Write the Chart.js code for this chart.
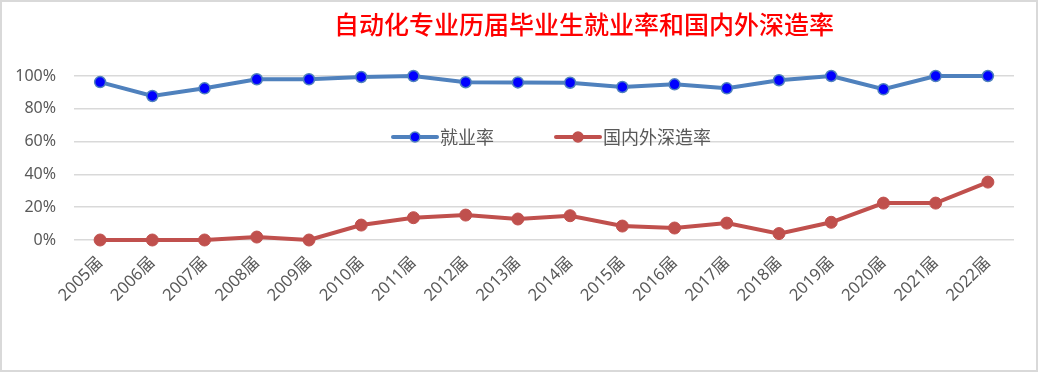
<!DOCTYPE html>
<html>
<head>
<meta charset="utf-8">
<script src="https://cdn.jsdelivr.net/npm/chart.js@4"></script>
<style>
  html, body { margin: 0; padding: 0; background: #fff; }
  canvas { display: block; }
</style>
</head>
<body>
<canvas id="chart" width="1038" height="372"></canvas>
<script>
const categories = ['2005届', '2006届', '2007届', '2008届', '2009届', '2010届', '2011届', '2012届', '2013届',
  '2014届', '2015届', '2016届', '2017届', '2018届', '2019届', '2020届', '2021届', '2022届'];
const employmentRate = [96.3, 87.8, 92.5, 98.0, 98.0, 99.4, 100, 96.2, 96.1,
  95.9, 93.3, 94.9, 92.5, 97.4, 100, 91.9, 100, 100];
const furtherStudyRate = [0, 0, 0, 1.8, 0, 9.1, 13.6, 15.2, 12.8,
  14.8, 8.5, 7.3, 10.3, 3.9, 10.8, 22.5, 22.5, 35.3];
const seriesNames = ['就业率', '国内外深造率'];
const titleText = '自动化专业历届毕业生就业率和国内外深造率';

const labelFont = "'Noto Sans', 'Noto Sans CJK SC', sans-serif";

// title, frame and in-plot legend
const decor = {
  id: 'decor',
  afterDraw(chart) {
    const ctx = chart.ctx;
    ctx.save();
    ctx.strokeStyle = '#d9d9d9';
    ctx.lineWidth = 2;
    ctx.strokeRect(1, 1, chart.width - 2, chart.height - 2);

    ctx.fillStyle = '#ff0000';
    ctx.font = "500 25px 'Noto Sans CJK SC', sans-serif";
    ctx.textAlign = 'center';
    ctx.textBaseline = 'middle';
    ctx.fillText(titleText, 584, 24);

    const items = [
      { x: 393, color: '#4f81bd', point: '#0000ff' },
      { x: 556, color: '#c0504d', point: '#c0504d' },
    ];
    const y = 137;
    items.forEach((it, i) => {
      ctx.strokeStyle = it.color;
      ctx.lineWidth = 4;
      ctx.lineCap = 'round';
      ctx.beginPath();
      ctx.moveTo(it.x, y);
      ctx.lineTo(it.x + 44, y);
      ctx.stroke();
      ctx.beginPath();
      ctx.arc(it.x + 22, y, 5, 0, Math.PI * 2);
      ctx.fillStyle = it.point;
      ctx.fill();
      ctx.lineWidth = 1.5;
      ctx.strokeStyle = it.color;
      ctx.stroke();
      ctx.fillStyle = '#595959';
      ctx.font = "18px 'Noto Sans CJK SC', sans-serif";
      ctx.textAlign = 'left';
      ctx.textBaseline = 'middle';
      ctx.fillText(seriesNames[i], it.x + 47, y);
    });
    ctx.restore();
  },
};

new Chart(document.getElementById('chart').getContext('2d'), {
  type: 'line',
  data: {
    labels: categories,
    datasets: [
      {
        label: seriesNames[0],
        data: employmentRate,
        borderColor: '#4f81bd',
        borderWidth: 4,
        pointBackgroundColor: '#0000ff',
        pointBorderColor: '#4f81bd',
        pointBorderWidth: 1.5,
        pointRadius: 5.5,
        tension: 0,
        clip: false,
      },
      {
        label: seriesNames[1],
        data: furtherStudyRate,
        borderColor: '#c0504d',
        borderWidth: 4,
        pointBackgroundColor: '#c0504d',
        pointBorderColor: '#c0504d',
        pointBorderWidth: 1,
        pointRadius: 6,
        tension: 0,
        clip: false,
      },
    ],
  },
  options: {
    responsive: false,
    animation: false,
    devicePixelRatio: 1,
    layout: { padding: { top: 76, right: 24, left: 0, bottom: 0 } },
    plugins: {
      legend: { display: false },
      title: { display: false },
      tooltip: { enabled: false },
    },
    scales: {
      x: {
        offset: true,
        grid: { display: false, drawTicks: false },
        border: { display: false },
        ticks: {
          color: '#595959',
          font: { family: labelFont, size: 16.5 },
          minRotation: 45,
          maxRotation: 45,
          padding: 13,
        },
        afterFit(scale) { scale.height = 132; },
      },
      y: {
        min: 0,
        max: 100,
        grid: { color: '#d9d9d9', lineWidth: 1.5, drawTicks: false },
        border: { display: false },
        ticks: {
          stepSize: 20,
          color: '#595959',
          font: { family: labelFont, size: 16 },
          padding: 18,
          callback: (v) => v + '%',
        },
        afterFit(scale) { scale.width = 74; },
      },
    },
  },
  plugins: [decor],
});
</script>
</body>
</html>
